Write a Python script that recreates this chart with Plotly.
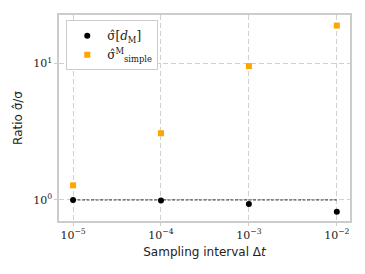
import plotly.graph_objects as go

dt = [1e-5, 1e-4, 1e-3, 1e-2]
ratio_dM = [1.0, 0.99, 0.935, 0.82]
err_dM = [0.01, 0.01, 0.012, 0.012]
ratio_simple = [1.28, 3.08, 9.55, 18.9]
err_simple = [0.03, 0.08, 0.25, 0.5]

x_tickvals = [1e-5, 1e-4, 1e-3, 1e-2]
x_ticktext = ["10<sup>−5</sup>", "10<sup>−4</sup>", "10<sup>−3</sup>", "10<sup>−2</sup>"]
y_tickvals = [1, 10]
y_ticktext = ["10<sup>0</sup>", "10<sup>1</sup>"]

fig = go.Figure()
fig.add_trace(go.Scatter(
    x=[dt[0], dt[-1]], y=[1, 1], mode="lines",
    line=dict(color="black", width=0.8, dash="3px,1.5px"),
    showlegend=False, hoverinfo="skip"))
fig.add_trace(go.Scatter(
    x=dt, y=ratio_dM, mode="markers", name="σ̂[<i>d</i><sub>M</sub>]",
    marker=dict(color="black", size=6, symbol="circle"),
    error_y=dict(type="data", array=err_dM, color="black", thickness=1.5, width=0)))
fig.add_trace(go.Scatter(
    x=dt, y=ratio_simple, mode="markers", name="σ̂<sup>M</sup><sub>simple</sub>",
    marker=dict(color="#FFA500", size=6, symbol="square"),
    error_y=dict(type="data", array=err_simple, color="#FFA500", thickness=1.5, width=0)))

axis_common = dict(
    type="log", showgrid=True, gridcolor="#d0d0d0", griddash="5px,3px", gridwidth=1,
    showline=True, linecolor="#cccccc", linewidth=1.5, mirror=True,
    ticks="outside", ticklen=3, tickcolor="#cccccc", automargin=False,
    zeroline=False,
    tickfont=dict(family="DejaVu Serif", size=11, color="#222"),
)
fig.update_xaxes(**axis_common, range=[-5.16, -1.85],
                 tickvals=x_tickvals, ticktext=x_ticktext,
                 title=dict(text="Sampling interval Δ<i>t</i>", standoff=7,
                            font=dict(family="DejaVu Sans", size=12, color="#222")))
fig.update_yaxes(**axis_common, range=[-0.154, 1.354],
                 tickvals=y_tickvals, ticktext=y_ticktext,
                 title=dict(text="Ratio σ̂/σ", standoff=8,
                            font=dict(family="DejaVu Sans", size=12, color="#222")))

fig.update_layout(
    width=357, height=266,
    margin=dict(l=51, r=15, t=7, b=53),
    plot_bgcolor="white", paper_bgcolor="white",
    legend=dict(x=0.025, y=0.975, xanchor="left", yanchor="top",
                bgcolor="white", bordercolor="#cccccc", borderwidth=1,
                font=dict(family="DejaVu Serif", size=12, color="#222")),
)
fig.write_html("out.html")
